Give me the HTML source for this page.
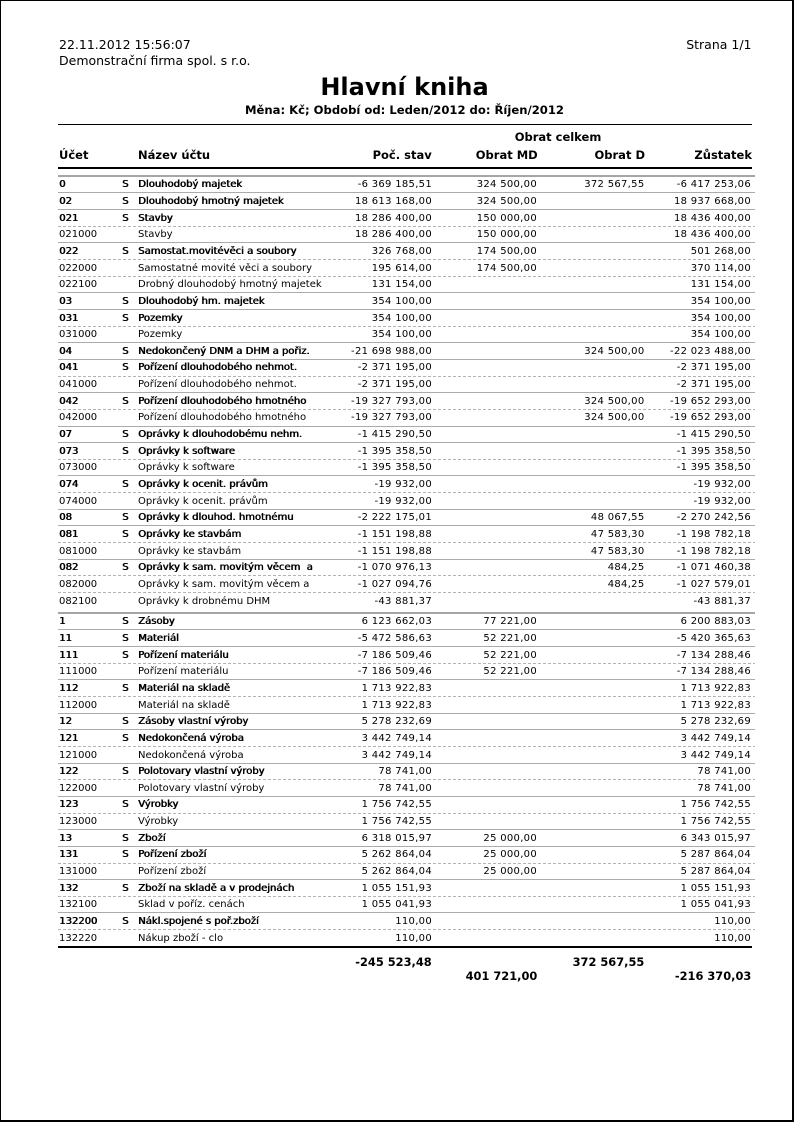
<!DOCTYPE html>
<html>
<head>
<meta charset="utf-8">
<style>
html,body{margin:0;padding:0}
body{width:794px;height:1122px;position:relative;background:#fff;font-family:"DejaVu Sans","Liberation Sans",sans-serif;color:#000;overflow:hidden}
.frame{position:absolute;left:0;top:0;width:794px;height:1122px;box-sizing:border-box;border-style:solid;border-color:#000;border-width:1px 2px 2px 1px}
.a{position:absolute;white-space:nowrap;line-height:1}
.hb{font-weight:bold;font-size:11.5px}
.line{position:absolute;background:#000}
.rows{position:absolute;left:58px;width:697px}
.r{position:relative;height:16.667px}
.r::before{content:"";position:absolute;left:0;top:0;width:100%;height:1px;background:#ababab}
.r.d::before{background:repeating-linear-gradient(90deg,#b3b3b3 0 3px,transparent 3px 5px)}
.r.f{height:17.667px}
.r.f::before{height:2px;background:#a5a5a5}
.r span{position:absolute;top:4.6px;font-size:10px;line-height:1;white-space:nowrap}
.r.f span{top:5.6px}
.c1{left:1px}.c2{left:64px}.c3{left:80px}
.c4,.c5,.c6,.c7{letter-spacing:0.3px}
.c4{right:323px}.c5{right:218px}.c6{right:110.5px}.c7{right:4px}
.r.b .c1,.r.b .c2,.r.b .c3{text-shadow:0.6px 0 0 #000}
.tot{font-weight:bold;font-size:11.4px}
</style>
</head>
<body>
<div class="frame"></div>

<div class="a" style="left:59px;top:39.4px;font-size:12.5px">22.11.2012 15:56:07</div>
<div class="a" style="left:59px;top:55.1px;font-size:12.5px">Demonstrační firma spol. s r.o.</div>
<div class="a" style="right:42.5px;top:39.4px;font-size:12.5px">Strana 1/1</div>

<div class="a" style="left:0;width:809px;text-align:center;top:75.4px;font-size:24px;font-weight:bold">Hlavní kniha</div>
<div class="a" style="left:0;width:809px;text-align:center;top:105.2px;font-size:11.6px;font-weight:bold">Měna: Kč; Období od: Leden/2012 do: Říjen/2012</div>

<div class="line" style="left:58px;top:124px;width:694px;height:1px"></div>

<div class="a hb" style="left:458px;width:200px;text-align:center;top:132px">Obrat celkem</div>
<div class="a hb" style="left:59px;top:150.3px">Účet</div>
<div class="a hb" style="left:138px;top:150.3px">Název účtu</div>
<div class="a hb" style="right:362.3px;top:150.3px">Poč. stav</div>
<div class="a hb" style="right:256.3px;top:150.3px">Obrat MD</div>
<div class="a hb" style="right:149px;top:150.3px">Obrat D</div>
<div class="a hb" style="right:42px;top:150.3px">Zůstatek</div>

<div class="line" style="left:58px;top:166.67px;width:694px;height:2px"></div>

<div class="rows" style="top:174.67px">
<div class="r f b"><span class="c1">0</span><span class="c2">S</span><span class="c3">Dlouhodobý majetek</span><span class="c4">-6 369 185,51</span><span class="c5">324 500,00</span><span class="c6">372 567,55</span><span class="c7">-6 417 253,06</span></div>
<div class="r b"><span class="c1">02</span><span class="c2">S</span><span class="c3">Dlouhodobý hmotný majetek</span><span class="c4">18 613 168,00</span><span class="c5">324 500,00</span><span class="c7">18 937 668,00</span></div>
<div class="r b"><span class="c1">021</span><span class="c2">S</span><span class="c3">Stavby</span><span class="c4">18 286 400,00</span><span class="c5">150 000,00</span><span class="c7">18 436 400,00</span></div>
<div class="r d"><span class="c1">021000</span><span class="c3">Stavby</span><span class="c4">18 286 400,00</span><span class="c5">150 000,00</span><span class="c7">18 436 400,00</span></div>
<div class="r b"><span class="c1">022</span><span class="c2">S</span><span class="c3">Samostat.movitévěci a soubory</span><span class="c4">326 768,00</span><span class="c5">174 500,00</span><span class="c7">501 268,00</span></div>
<div class="r d"><span class="c1">022000</span><span class="c3">Samostatné movité věci a soubory</span><span class="c4">195 614,00</span><span class="c5">174 500,00</span><span class="c7">370 114,00</span></div>
<div class="r d"><span class="c1">022100</span><span class="c3">Drobný dlouhodobý hmotný majetek</span><span class="c4">131 154,00</span><span class="c7">131 154,00</span></div>
<div class="r b"><span class="c1">03</span><span class="c2">S</span><span class="c3">Dlouhodobý hm. majetek</span><span class="c4">354 100,00</span><span class="c7">354 100,00</span></div>
<div class="r b"><span class="c1">031</span><span class="c2">S</span><span class="c3">Pozemky</span><span class="c4">354 100,00</span><span class="c7">354 100,00</span></div>
<div class="r d"><span class="c1">031000</span><span class="c3">Pozemky</span><span class="c4">354 100,00</span><span class="c7">354 100,00</span></div>
<div class="r b"><span class="c1">04</span><span class="c2">S</span><span class="c3">Nedokončený DNM a DHM a pořiz.</span><span class="c4">-21 698 988,00</span><span class="c6">324 500,00</span><span class="c7">-22 023 488,00</span></div>
<div class="r b"><span class="c1">041</span><span class="c2">S</span><span class="c3">Pořízení dlouhodobého nehmot.</span><span class="c4">-2 371 195,00</span><span class="c7">-2 371 195,00</span></div>
<div class="r d"><span class="c1">041000</span><span class="c3">Pořízení dlouhodobého nehmot.</span><span class="c4">-2 371 195,00</span><span class="c7">-2 371 195,00</span></div>
<div class="r b"><span class="c1">042</span><span class="c2">S</span><span class="c3">Pořízení dlouhodobého hmotného</span><span class="c4">-19 327 793,00</span><span class="c6">324 500,00</span><span class="c7">-19 652 293,00</span></div>
<div class="r d"><span class="c1">042000</span><span class="c3">Pořízení dlouhodobého hmotného</span><span class="c4">-19 327 793,00</span><span class="c6">324 500,00</span><span class="c7">-19 652 293,00</span></div>
<div class="r b"><span class="c1">07</span><span class="c2">S</span><span class="c3">Oprávky k dlouhodobému nehm.</span><span class="c4">-1 415 290,50</span><span class="c7">-1 415 290,50</span></div>
<div class="r b"><span class="c1">073</span><span class="c2">S</span><span class="c3">Oprávky k software</span><span class="c4">-1 395 358,50</span><span class="c7">-1 395 358,50</span></div>
<div class="r d"><span class="c1">073000</span><span class="c3">Oprávky k software</span><span class="c4">-1 395 358,50</span><span class="c7">-1 395 358,50</span></div>
<div class="r b"><span class="c1">074</span><span class="c2">S</span><span class="c3">Oprávky k ocenit. právům</span><span class="c4">-19 932,00</span><span class="c7">-19 932,00</span></div>
<div class="r d"><span class="c1">074000</span><span class="c3">Oprávky k ocenit. právům</span><span class="c4">-19 932,00</span><span class="c7">-19 932,00</span></div>
<div class="r b"><span class="c1">08</span><span class="c2">S</span><span class="c3">Oprávky k dlouhod. hmotnému</span><span class="c4">-2 222 175,01</span><span class="c6">48 067,55</span><span class="c7">-2 270 242,56</span></div>
<div class="r b"><span class="c1">081</span><span class="c2">S</span><span class="c3">Oprávky ke stavbám</span><span class="c4">-1 151 198,88</span><span class="c6">47 583,30</span><span class="c7">-1 198 782,18</span></div>
<div class="r d"><span class="c1">081000</span><span class="c3">Oprávky ke stavbám</span><span class="c4">-1 151 198,88</span><span class="c6">47 583,30</span><span class="c7">-1 198 782,18</span></div>
<div class="r b"><span class="c1">082</span><span class="c2">S</span><span class="c3">Oprávky k sam. movitým věcem &nbsp;a</span><span class="c4">-1 070 976,13</span><span class="c6">484,25</span><span class="c7">-1 071 460,38</span></div>
<div class="r d"><span class="c1">082000</span><span class="c3">Oprávky k sam. movitým věcem a</span><span class="c4">-1 027 094,76</span><span class="c6">484,25</span><span class="c7">-1 027 579,01</span></div>
<div class="r d"><span class="c1">082100</span><span class="c3">Oprávky k drobnému DHM</span><span class="c4">-43 881,37</span><span class="c7">-43 881,37</span></div>
</div>

<div class="rows" style="top:611.67px">
<div class="r f b"><span class="c1">1</span><span class="c2">S</span><span class="c3">Zásoby</span><span class="c4">6 123 662,03</span><span class="c5">77 221,00</span><span class="c7">6 200 883,03</span></div>
<div class="r b"><span class="c1">11</span><span class="c2">S</span><span class="c3">Materiál</span><span class="c4">-5 472 586,63</span><span class="c5">52 221,00</span><span class="c7">-5 420 365,63</span></div>
<div class="r b"><span class="c1">111</span><span class="c2">S</span><span class="c3">Pořízení materiálu</span><span class="c4">-7 186 509,46</span><span class="c5">52 221,00</span><span class="c7">-7 134 288,46</span></div>
<div class="r d"><span class="c1">111000</span><span class="c3">Pořízení materiálu</span><span class="c4">-7 186 509,46</span><span class="c5">52 221,00</span><span class="c7">-7 134 288,46</span></div>
<div class="r b"><span class="c1">112</span><span class="c2">S</span><span class="c3">Materiál na skladě</span><span class="c4">1 713 922,83</span><span class="c7">1 713 922,83</span></div>
<div class="r d"><span class="c1">112000</span><span class="c3">Materiál na skladě</span><span class="c4">1 713 922,83</span><span class="c7">1 713 922,83</span></div>
<div class="r b"><span class="c1">12</span><span class="c2">S</span><span class="c3">Zásoby vlastní výroby</span><span class="c4">5 278 232,69</span><span class="c7">5 278 232,69</span></div>
<div class="r b"><span class="c1">121</span><span class="c2">S</span><span class="c3">Nedokončená výroba</span><span class="c4">3 442 749,14</span><span class="c7">3 442 749,14</span></div>
<div class="r d"><span class="c1">121000</span><span class="c3">Nedokončená výroba</span><span class="c4">3 442 749,14</span><span class="c7">3 442 749,14</span></div>
<div class="r b"><span class="c1">122</span><span class="c2">S</span><span class="c3">Polotovary vlastní výroby</span><span class="c4">78 741,00</span><span class="c7">78 741,00</span></div>
<div class="r d"><span class="c1">122000</span><span class="c3">Polotovary vlastní výroby</span><span class="c4">78 741,00</span><span class="c7">78 741,00</span></div>
<div class="r b"><span class="c1">123</span><span class="c2">S</span><span class="c3">Výrobky</span><span class="c4">1 756 742,55</span><span class="c7">1 756 742,55</span></div>
<div class="r d"><span class="c1">123000</span><span class="c3">Výrobky</span><span class="c4">1 756 742,55</span><span class="c7">1 756 742,55</span></div>
<div class="r b"><span class="c1">13</span><span class="c2">S</span><span class="c3">Zboží</span><span class="c4">6 318 015,97</span><span class="c5">25 000,00</span><span class="c7">6 343 015,97</span></div>
<div class="r b"><span class="c1">131</span><span class="c2">S</span><span class="c3">Pořízení zboží</span><span class="c4">5 262 864,04</span><span class="c5">25 000,00</span><span class="c7">5 287 864,04</span></div>
<div class="r d"><span class="c1">131000</span><span class="c3">Pořízení zboží</span><span class="c4">5 262 864,04</span><span class="c5">25 000,00</span><span class="c7">5 287 864,04</span></div>
<div class="r b"><span class="c1">132</span><span class="c2">S</span><span class="c3">Zboží na skladě a v prodejnách</span><span class="c4">1 055 151,93</span><span class="c7">1 055 151,93</span></div>
<div class="r d"><span class="c1">132100</span><span class="c3">Sklad v poříz. cenách</span><span class="c4">1 055 041,93</span><span class="c7">1 055 041,93</span></div>
<div class="r b"><span class="c1">132200</span><span class="c2">S</span><span class="c3">Nákl.spojené s poř.zboží</span><span class="c4">110,00</span><span class="c7">110,00</span></div>
<div class="r d"><span class="c1">132220</span><span class="c3">Nákup zboží - clo</span><span class="c4">110,00</span><span class="c7">110,00</span></div>
</div>

<div class="line" style="left:58px;top:946px;width:694px;height:2px"></div>

<div class="a tot" style="right:362.3px;top:957.4px">-245 523,48</div>
<div class="a tot" style="right:149.7px;top:957.4px">372 567,55</div>
<div class="a tot" style="right:256.7px;top:971.4px">401 721,00</div>
<div class="a tot" style="right:42.7px;top:971.4px">-216 370,03</div>
</body>
</html>
